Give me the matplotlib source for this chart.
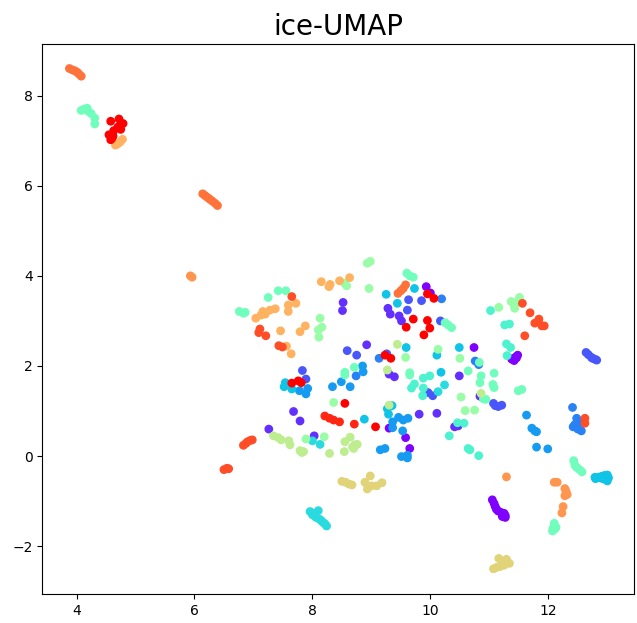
import matplotlib
matplotlib.use('Agg')
import matplotlib.pyplot as plt
import numpy as np

# colour value per cluster (mapped through the 'rainbow' colormap)
hue = [0.0, 0.06, 0.11, 0.17, 0.21, 0.28, 0.33, 0.40, 0.47,
       0.55, 0.62, 0.69, 0.75, 0.80, 0.85, 0.90, 0.95, 1.0]

cluster_x = [
    [9.93, 10.0, 10.74, 11.38, 11.42, 11.46, 11.48, 11.45, 11.41, 9.3, 9.58, 9.65,
     11.05, 11.08, 11.1, 11.12, 11.15, 11.2, 11.25, 11.27, 11.22, 11.27],
    [8.52, 8.51, 7.68, 7.79, 7.26, 8.03, 9.28, 9.32, 9.47, 9.51, 8.92, 9.30, 9.39,
     10.49, 10.84, 9.81, 10.11, 10.41, 10.47],
    [7.83, 7.89, 9.63, 9.85, 9.61, 10.17, 9.26, 8.59, 8.75, 9.96, 10.04, 11.07, 11.15,
     11.21, 11.1, 12.64, 12.68, 12.73, 12.75, 12.79, 12.82],
    [10.19, 10.76, 10.82, 8.74, 12.41, 12.48, 12.42, 12.52, 12.56, 12.45, 12.5, 9.13],
    [7.78, 7.92, 7.89, 8.34, 8.49, 8.64, 8.85, 8.86, 9.46, 9.54, 9.62, 9.36, 9.36,
     9.53, 9.15, 9.23, 9.51, 9.61, 9.61, 11.63, 11.72, 11.77, 11.80, 11.80, 11.99],
    [9.25, 9.73, 9.44, 9.59, 10.49, 10.11, 7.54, 7.52, 7.65, 9.35, 9.27, 9.29, 8.88,
     10.18, 12.8, 12.85, 12.9, 12.95, 13.0, 13.02, 12.97, 12.92, 12.88, 13.0, 12.79],
    [10.24, 10.13, 8.0, 8.13, 7.96, 8.10, 8.06, 8.18, 8.24, 8.0, 8.04, 8.12, 8.15, 8.21],
    [11.26, 11.34, 11.29, 11.36, 11.30, 9.88, 9.99, 9.73, 9.68, 9.88, 9.87, 10.46,
     10.57, 10.32, 10.64, 10.67, 10.82, 11.02],
    [4.08, 4.13, 4.18, 4.2, 4.25, 4.31, 4.31, 7.42, 7.55, 7.25, 6.76, 6.83, 6.86,
     9.60, 9.65, 9.71, 10.25, 10.30, 10.36, 10.83, 8.55, 8.55, 8.71, 9.65, 9.65,
     10.64, 10.84, 10.86, 11.08, 11.06, 11.08, 10.94, 10.9, 11.49, 11.55,
     12.43, 12.45, 12.48, 12.53, 12.57, 12.10, 12.07, 12.11, 12.13, 12.08],
    [8.54, 8.58, 8.13, 8.16, 8.10, 8.11, 8.96, 8.93, 8.98, 10.13, 9.58, 10.50, 7.89,
     8.20, 8.36, 10.52, 10.59, 10.75, 11.37, 11.51, 11.43, 11.16, 11.45, 11.42],
    [9.44, 9.27, 9.3, 10.86, 7.34, 7.42, 7.47, 7.60, 7.62, 7.79, 7.85, 7.82, 8.29,
     8.55, 8.54, 8.64, 8.72, 8.68, 8.76, 8.70],
    [8.5, 8.56, 8.62, 8.67, 8.98, 8.89, 8.93, 9.0, 9.09, 9.18, 11.16, 11.29, 11.07,
     11.18, 11.34, 11.25, 11.12, 11.22],
    [4.66, 4.7, 4.74, 4.78, 8.15, 8.30, 8.28, 8.46, 8.63, 7.72, 7.59, 7.59, 7.37,
     7.28, 7.16, 7.20, 7.13, 7.04, 7.46, 7.79, 7.88, 7.56, 7.64],
    [5.93, 5.96, 11.29, 12.10, 12.15, 12.28, 12.32, 12.3, 12.28, 12.25, 12.23],
    [3.88, 3.93, 3.97, 4.01, 4.04, 4.08, 6.14, 6.18, 6.22, 6.26, 6.3, 6.35, 6.39,
     9.45, 9.54, 9.58, 9.5],
    [6.5, 6.55, 6.58, 6.83, 6.87, 6.9, 6.95, 6.98, 7.65, 7.11, 7.09, 7.21, 7.43, 7.49,
     11.56, 11.69, 11.84, 11.77, 11.89, 11.93, 11.60, 12.62, 12.62],
    [8.21, 8.29, 8.36, 8.46, 8.71],
    [4.58, 4.72, 4.79, 4.7, 4.75, 4.63, 4.55, 4.62, 4.58, 4.6, 9.95, 10.06, 9.71,
     9.95, 9.59, 9.99, 9.89, 9.23, 9.33, 7.65, 7.76, 7.81, 8.55, 9.07],
]

cluster_y = [
    [3.76, 3.62, 2.41, 2.15, 2.12, 2.18, 2.24, 2.2, 2.17, 0.62, 0.41, 0.17,
     -0.97, -1.05, -1.12, -1.18, -1.22, -1.25, -1.27, -1.32, -1.34, -1.36],
    [3.41, 3.23, 0.99, 0.78, 0.60, 0.45, 3.28, 3.15, 3.11, 3.0, 2.47, 1.82, 1.76,
     1.78, 1.33, 0.93, 0.95, 0.65, 0.67],
    [1.90, 1.71, 3.47, 3.45, 3.24, 3.0, 2.27, 2.34, 2.24, 1.41, 1.34, 1.17, 1.10,
     1.13, 1.12, 2.30, 2.25, 2.19, 2.17, 2.15, 2.13],
    [3.49, 2.11, 2.03, 1.78, 1.08, 0.84, 0.65, 0.73, 0.56, 0.7, 0.6, 2.17],
    [1.45, 1.50, 1.38, 1.54, 1.65, 1.54, 2.0, 1.87, 0.86, 0.80, 0.84, 0.76, 0.63,
     0.56, 0.14, 0.17, -0.01, 0.02, -0.04, 0.91, 0.62, 0.56, 0.54, 0.20, 0.16],
    [3.59, 3.72, 3.39, 2.41, 2.41, 2.24, 1.63, 1.54, 1.49, 1.12, 1.05, 0.93, 0.82,
     1.86, -0.5, -0.47, -0.45, -0.43, -0.42, -0.48, -0.52, -0.5, -0.48, -0.55, -0.47],
    [1.58, 1.43, 0.34, 0.26, -1.23, -1.21, -1.36, -1.47, -1.55, -1.3, -1.27, -1.4, -1.43, -1.5],
    [2.91, 2.93, 2.49, 2.41, 2.23, 1.73, 1.78, 1.60, 1.51, 1.51, 1.34, 0.74,
     0.73, 0.45, 0.17, 0.14, 0.01, 3.23],
    [7.67, 7.7, 7.72, 7.65, 7.6, 7.5, 7.37, 3.67, 3.67, 3.52, 3.21, 3.17, 3.19,
     4.06, 4.0, 3.97, 2.96, 2.91, 2.85, 2.08, 1.86, 1.80, 1.97, 1.85, 1.80,
     1.89, 1.63, 1.78, 1.84, 1.59, 1.52, 1.26, 1.27, 1.45, 1.48,
     -0.1, -0.2, -0.25, -0.3, -0.35, -1.49, -1.66, -1.62, -1.58, -1.6],
    [3.84, 3.78, 3.06, 2.86, 2.80, 2.64, 3.72, 4.28, 4.32, 2.37, 2.19, 2.17, 0.38,
     0.43, 1.19, 1.31, 1.01, 1.02, 3.43, 3.52, 3.28, 3.30, 3.4, 3.35],
    [2.48, 1.91, 1.13, 1.39, 0.45, 0.41, 0.36, 0.34, 0.25, 0.12, 0.10, 0.08, 0.06,
     0.32, 0.10, 0.42, 0.25, 0.20, 0.26, 0.17],
    [-0.56, -0.58, -0.62, -0.64, -0.44, -0.58, -0.73, -0.66, -0.66, -0.59, -2.27, -2.29, -2.50,
     -2.45, -2.38, -2.42, -2.47, -2.35],
    [6.9, 6.93, 6.97, 7.03, 3.87, 3.81, 3.76, 3.89, 3.96, 3.39, 3.35, 3.21, 3.27,
     3.24, 3.21, 3.15, 3.13, 3.06, 2.78, 2.76, 2.89, 2.44, 2.27],
    [4.0, 3.97, -0.46, -0.58, -0.58, -0.72, -0.85, -0.78, -0.88, -1.12, -1.26],
    [8.6, 8.57, 8.55, 8.52, 8.48, 8.43, 5.82, 5.78, 5.74, 5.7, 5.66, 5.61, 5.56,
     3.61, 3.72, 3.80, 3.67],
    [-0.3, -0.27, -0.28, 0.24, 0.28, 0.32, 0.35, 0.36, 3.54, 2.82, 2.74, 2.67, 2.45, 2.42,
     3.39, 3.18, 3.04, 2.95, 2.89, 2.89, 2.67, 0.84, 0.73],
    [0.89, 0.84, 0.80, 0.76, 0.71],
    [7.43, 7.48, 7.38, 7.3, 7.25, 7.22, 7.13, 7.1, 7.02, 7.05, 3.60, 3.50, 3.04,
     3.01, 2.86, 2.84, 2.69, 2.24, 2.17, 1.62, 1.67, 1.63, 1.17, 0.65],
]

x = np.concatenate(cluster_x)
y = np.concatenate(cluster_y)
c = np.concatenate([[h] * len(xs) for h, xs in zip(hue, cluster_x)])

fig = plt.figure(figsize=(6.37, 6.23), dpi=100)
ax = fig.add_axes([0.0664, 0.0465, 0.9296, 0.8833])
ax.scatter(x, y, c=c, cmap='rainbow', vmin=0, vmax=1, s=28)
ax.set_xlim(3.42, 13.46)
ax.set_ylim(-3.06, 9.15)
ax.set_title('ice-UMAP', fontsize=20)

plt.savefig('out.png', dpi=100)
plt.close()
